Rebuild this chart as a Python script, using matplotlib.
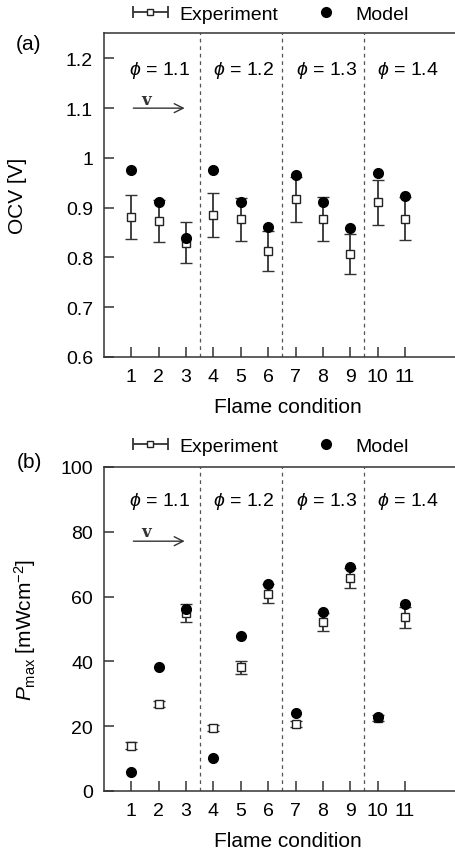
import numpy as np
import matplotlib.pyplot as plt
from matplotlib.lines import Line2D
from matplotlib.legend_handler import HandlerErrorbar

plt.rcParams['font.family'] = ['Liberation Sans', 'DejaVu Sans']
plt.rcParams['mathtext.fontset'] = 'custom'
plt.rcParams['mathtext.it'] = 'Liberation Sans:italic'
plt.rcParams['mathtext.rm'] = 'Liberation Sans'

flame = np.arange(1, 12)
phi_labels = ['1.1', '1.2', '1.3', '1.4']
phi_x = [2.05, 5.1, 8.12, 11.12]
group_edges = [3.5, 6.5, 9.5]

# panel (a): OCV
ocv_exp = [0.881, 0.874, 0.830, 0.885, 0.877, 0.813, 0.917, 0.877, 0.807, 0.911, 0.878]
ocv_err = [0.044, 0.042, 0.042, 0.044, 0.043, 0.040, 0.045, 0.044, 0.040, 0.045, 0.043]
ocv_model = [0.976, 0.912, 0.840, 0.976, 0.911, 0.862, 0.966, 0.911, 0.859, 0.969, 0.924]

# panel (b): max power density
p_exp = [14.0, 26.9, 54.9, 19.4, 38.2, 60.9, 20.7, 52.1, 65.8, 22.5, 53.6]
p_err = [1.0, 1.0, 2.8, 1.0, 2.0, 3.0, 1.0, 2.7, 3.0, 1.0, 3.2]
p_model = [5.8, 38.2, 56.3, 10.1, 47.7, 64.0, 24.1, 55.2, 69.1, 22.8, 57.8]

fig = plt.figure(figsize=(4.56, 8.54), dpi=100)

def panel(rect, exp, err, model, ylim, yticks, yticklabels, ylabel, ylab_x, tag, tag_y, leg_y, phi_y, arrow_y, v_y):
    ax = fig.add_axes(rect)
    for xe in group_edges:
        ax.axvline(xe, color='#555555', lw=0.9, ls=(0, (3, 3)), zorder=1)
    ax.errorbar(flame, exp, yerr=err, fmt='s', ms=6, mfc='white', mec='#222222', mew=1.0,
                ecolor='#333333', elinewidth=1.3, capsize=4.5, capthick=1.3, zorder=3)
    ax.plot(flame, model, 'o', ms=7, color='black', zorder=4)
    ax.set_xlim(0, 13.45)
    ax.set_ylim(*ylim)
    ax.set_xticks(flame)
    ax.set_yticks(yticks)
    ax.set_yticklabels(yticklabels)
    ax.tick_params(direction='in', length=7, width=1.1, labelsize=14, pad=8, color='#333333')
    ax.spines['right'].set_visible(False)
    for s in ['left', 'bottom', 'top']:
        ax.spines[s].set_linewidth(1.1)
        ax.spines[s].set_color('#333333')
    ax.set_xlabel('Flame condition', fontsize=15)
    ax.xaxis.set_label_coords((288 - 104) / 368, -0.125)
    ax.set_ylabel(ylabel, fontsize=15)
    ax.yaxis.set_label_coords(ylab_x, 0.5)
    for lab, xp in zip(phi_labels, phi_x):
        ax.text(xp, phi_y, r'$\phi$ = ' + lab, fontsize=14, ha='center', va='center')
    ax.annotate('', xy=(3.05, arrow_y), xytext=(0.97, arrow_y),
                arrowprops=dict(arrowstyle='->', lw=1.0, color='#333333', mutation_scale=16))
    ax.text(1.55, v_y, 'v', fontsize=12, family='DejaVu Serif', fontweight='bold',
            ha='center', va='center', color='#333333')
    fig.text(29 / 456, tag_y, tag, fontsize=15, ha='center', va='center')

    h_exp = ax.errorbar([np.nan], [np.nan], xerr=[1], fmt='s', ms=5, mfc='white', mec='#222222',
                        ecolor='#333333', elinewidth=1.3, capsize=4.5, capthick=1.3)
    h_mod = Line2D([], [], ls='none', marker='o', ms=7, color='black')
    fig.legend([h_exp, h_mod], ['Experiment', 'Model'], loc='center', ncol=2, frameon=False,
               bbox_to_anchor=(270 / 456, leg_y), fontsize=14, handlelength=1.9,
               handletextpad=0.55, columnspacing=1.5,
               handler_map={type(h_exp): HandlerErrorbar(xerr_size=0.9)})
    return ax

panel([104 / 456, 1 - 358 / 854, 368 / 456, 324 / 854], ocv_exp, ocv_err, ocv_model,
      (0.6, 1.251), np.arange(0.6, 1.21, 0.1), ['0.6', '0.7', '0.8', '0.9', '1', '1.1', '1.2'],
      'OCV [V]', -0.21, '(a)', 1 - 44 / 854, 1 - 15 / 854, 1.178, 1.1, 1.118)

panel([104 / 456, 1 - 792 / 854, 368 / 456, 324 / 854], p_exp, p_err, p_model,
      (0, 100), [0, 20, 40, 60, 80, 100], ['0', '20', '40', '60', '80', '100'],
      r'$P_{\mathrm{max}}$ [mWcm$^{-2}$]', -0.18, '(b)', 1 - 463 / 854, 1 - 447 / 854, 89.7, 77.1, 80.0)

fig.savefig('out.png', dpi=100)
